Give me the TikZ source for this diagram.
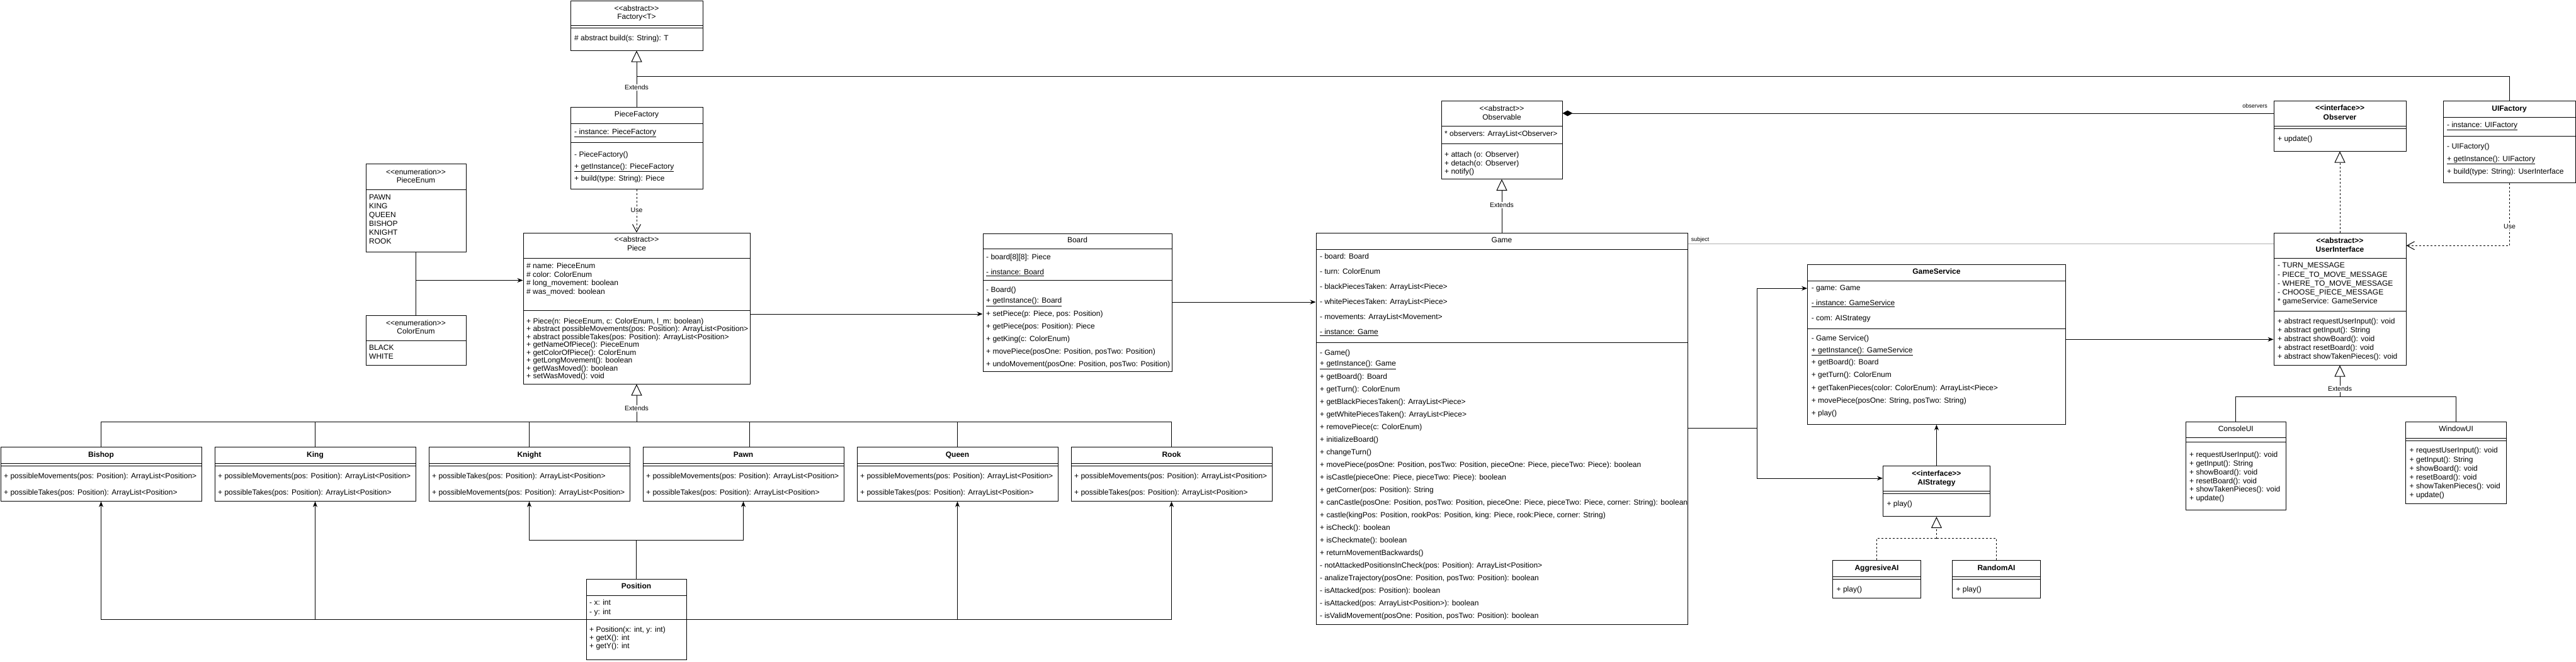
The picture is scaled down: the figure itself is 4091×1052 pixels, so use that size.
\documentclass[tikz,border=0pt]{standalone}
\usepackage{fontspec}
\setmainfont{Liberation Sans}
\usetikzlibrary{arrows.meta,fit}
\newcommand{\stereo}[1]{<\kern0pt<#1>\kern0pt>}
\newcommand{\umlbox}[5]{\node[box, fit={(#2,#3) (#4,#5)}] (#1) {};}
\newcommand{\divl}[3]{\draw[conn] (#1,#3) -- (#2,#3);}
\newcommand{\txtlines}[5]{\foreach \tx [count=\i] in {#5}{\node[txt] (#1\i) at (#2,{#3+(\i-1)*#4}) {\tx};}}
\tikzset{
  box/.style={draw, line width=1pt, fill=white, inner sep=0pt},
  conn/.style={line width=1pt},
  txt/.style={font=\fontsize{12}{14.4}\selectfont, inner sep=0pt, anchor=mid west},
  ttl/.style={font=\fontsize{12}{14.4}\selectfont, inner sep=0pt, anchor=mid},
  ttlb/.style={font=\fontsize{12}{14.4}\selectfont\bfseries, inner sep=0pt, anchor=mid},
  lbl/.style={font=\fontsize{10.5}{12}\selectfont, fill=white, inner sep=1pt, anchor=mid},
  small/.style={font=\fontsize{9}{10}\selectfont, inner sep=0pt, anchor=mid},
  arr/.style={conn, -{Stealth[length=9pt,width=7pt]}},
  ext/.style={conn, -{Triangle[open,length=18pt,width=17pt,fill=white]}},
  real/.style={conn, dash pattern=on 3pt off 3pt, -{Triangle[open,length=18pt,width=17pt,fill=white]}},
  usearr/.style={conn, dash pattern=on 3pt off 3pt, -{Straight Barb[length=12pt,width=13pt]}},
  dsh/.style={conn, dash pattern=on 3pt off 3pt},
  comp/.style={conn, {Diamond[length=16pt,width=9pt]}-},
}
\begin{document}
\begin{tikzpicture}[x=1pt,y=-1pt]
\useasboundingbox (0,0) rectangle (4091,1052);
\fill[white] (0,0) rectangle (4091,1052);

% ---------- Factory<T>
\umlbox{F}{906}{1}{1116}{80}
\divl{906}{1116}{40}\divl{906}{1116}{44}
\node[ttl] (Fs) at (1011,15) {\stereo{abstract}};
\node[ttl] (Ft) at (1011,28) {Factory<T>};
\node[txt] (F1) at (912,62) {\# abstract build(s: String): T};

% ---------- PieceFactory
\umlbox{PF}{906}{170}{1116}{300}
\divl{906}{1116}{196}\divl{906}{1116}{226.7}
\node[ttl] (PFt) at (1011,183) {PieceFactory};
\node[txt] (PFa) at (912,210.7) {\underline{- instance: PieceFactory}};
\txtlines{PFm}{912}{246.7}{19.2}{{- PieceFactory()},{\underline{+ getInstance(): PieceFactory}},{+ build(type: String): Piece}}

% ---------- PieceEnum
\umlbox{PE}{581}{260}{740}{400}
\divl{581}{740}{301.7}
\node[ttl] (PEs) at (660.5,275) {\stereo{enumeration}};
\node[ttl] (PEt) at (660.5,287.7) {PieceEnum};
\txtlines{PEi}{586}{315}{13.9}{PAWN,KING,QUEEN,BISHOP,KNIGHT,ROOK}

% ---------- ColorEnum
\umlbox{CE}{581}{501.7}{740}{580}
\divl{581}{740}{541.7}
\node[ttl] (CEs) at (660.5,515) {\stereo{enumeration}};
\node[ttl] (CEt) at (660.5,527.7) {ColorEnum};
\txtlines{CEi}{586}{554.3}{14}{BLACK,WHITE}

% ---------- Piece
\umlbox{P}{831}{370}{1191}{610}
\divl{831}{1191}{410.7}\divl{831}{1191}{493.3}
\node[ttl] (Ps) at (1011,381.7) {\stereo{abstract}};
\node[ttl] (Pt) at (1011,396) {Piece};
\txtlines{Pa}{836}{424.3}{13.5}{{\# name: PieceEnum},{\# color: ColorEnum},{\# long\_movement: boolean},{\# was\_moved: boolean}}
\txtlines{Pm}{836}{511.7}{12.5}{{+ Piece(n: PieceEnum, c: ColorEnum, l\_m: boolean)},{+ abstract possibleMovements(pos: Position): ArrayList<Position>},{+ abstract possibleTakes(pos: Position): ArrayList<Position>},{+ getNameOfPiece(): PieceEnum},{+ getColorOfPiece(): ColorEnum},{+ getLongMovement(): boolean},{+ getWasMoved(): boolean},{+ setWasMoved(): void}}

% ---------- Board
\umlbox{B}{1561}{371}{1861}{590}
\divl{1561}{1861}{395}\divl{1561}{1861}{445}
\node[ttl] (Bt) at (1711,383) {Board};
\txtlines{Ba}{1566}{410}{24}{{- board[8][8]: Piece},{\underline{- instance: Board}}}
\txtlines{Bm}{1566}{461.7}{17.6}{{- Board()},{\underline{+ getInstance(): Board}}}
\txtlines{Bn}{1566}{500}{20}{{+ setPiece(p: Piece, pos: Position)},{+ getPiece(pos: Position): Piece},{+ getKing(c: ColorEnum)},{+ movePiece(posOne: Position, posTwo: Position)},{+ undoMovement(posOne: Position, posTwo: Position)}}

% ---------- Game
\umlbox{G}{2090}{370}{2680}{992}
\divl{2090}{2680}{396.7}\divl{2090}{2680}{544}
\node[ttl] (Gt) at (2385,383.3) {Game};
\txtlines{Ga}{2096}{409.3}{24}{{- board: Board},{- turn: ColorEnum},{- blackPiecesTaken: ArrayList<Piece>},{- whitePiecesTaken: ArrayList<Piece>},{- movements: ArrayList<Movement>},{\underline{- instance: Game}}}
\txtlines{Gm}{2096}{561.7}{17.6}{{- Game()},{\underline{+ getInstance(): Game}}}
\txtlines{Gn}{2096}{599.7}{20}{{+ getBoard(): Board},{+ getTurn(): ColorEnum},{+ getBlackPiecesTaken(): ArrayList<Piece>},{+ getWhitePiecesTaken(): ArrayList<Piece>},{+ removePiece(c: ColorEnum)},{+ initializeBoard()},{+ changeTurn()},{+ movePiece(posOne: Position, posTwo: Position, pieceOne: Piece, pieceTwo: Piece): boolean},{+ isCastle(pieceOne: Piece, pieceTwo: Piece): boolean},{+ getCorner(pos: Position): String},{+ canCastle(posOne: Position, posTwo: Position, pieceOne: Piece, pieceTwo: Piece, corner: String): boolean},{+ castle(kingPos: Position, rookPos: Position, king: Piece, rook:Piece, corner: String)},{+ isCheck(): boolean},{+ isCheckmate(): boolean},{+ returnMovementBackwards()},{- notAttackedPositionsInCheck(pos: Position): ArrayList<Position>},{- analizeTrajectory(posOne: Position, posTwo: Position): boolean},{- isAttacked(pos: Position): boolean},{- isAttacked(pos: ArrayList<Position>): boolean},{- isValidMovement(posOne: Position, posTwo: Position): boolean}}

% ---------- Observable
\umlbox{OB}{2289}{160}{2481}{284.3}
\divl{2289}{2481}{200.3}\divl{2289}{2481}{228.7}
\node[ttl] (OBs) at (2385,174.3) {\stereo{abstract}};
\node[ttl] (OBt) at (2385,188.3) {Observable};
\node[txt] (OBa) at (2294,214) {* observers: ArrayList<Observer>};
\txtlines{OBm}{2294}{246.7}{13.7}{{+ attach (o: Observer)},{+ detach(o: Observer)},{+ notify()}}

% ---------- Observer
\umlbox{OR}{3611}{160}{3821}{240}
\divl{3611}{3821}{200}\divl{3611}{3821}{204}
\node[ttlb] (ORs) at (3716,173.3) {\stereo{interface}};
\node[ttlb] (ORt) at (3716,187.7) {Observer};
\node[txt] (ORm) at (3617,221.7) {+ update()};

% ---------- UIFactory
\umlbox{UF}{3880}{160}{4090}{290}
\divl{3880}{4090}{186.7}\divl{3880}{4090}{216.3}
\node[ttlb] (UFt) at (3985,173.7) {UIFactory};
\node[txt] (UFa) at (3886,200) {\underline{- instance: UIFactory}};
\txtlines{UFm}{3886}{233.7}{20}{{- UIFactory()},{\underline{+ getInstance(): UIFactory}},{+ build(type: String): UserInterface}}

% ---------- UserInterface
\umlbox{UI}{3611}{370}{3821}{580}
\divl{3611}{3821}{410.7}\divl{3611}{3821}{494.3}
\node[ttlb] (UIs) at (3716,383.7) {\stereo{abstract}};
\node[ttlb] (UIt) at (3716,397.7) {UserInterface};
\txtlines{UIa}{3617}{423.3}{14.1}{{- TURN\_MESSAGE},{- PIECE\_TO\_MOVE\_MESSAGE},{- WHERE\_TO\_MOVE\_MESSAGE},{- CHOOSE\_PIECE\_MESSAGE},{* gameService: GameService}}
\txtlines{UIm}{3617}{511.7}{14}{{+ abstract requestUserInput(): void},{+ abstract getInput(): String},{+ abstract showBoard(): void},{+ abstract resetBoard(): void},{+ abstract showTakenPieces(): void}}

% ---------- GameService
\umlbox{GS}{2870.6}{420.7}{3280.2}{674.3}
\divl{2870.6}{3280.2}{446.4}\divl{2870.6}{3280.2}{522.5}
\node[ttlb] (GSt) at (3075.4,433.2) {GameService};
\txtlines{GSa}{2876.6}{459.3}{23.9}{{- game: Game},{\underline{- instance: GameService}},{- com: AIStrategy}}
\txtlines{GSm}{2876.6}{539.3}{18.2}{{- Game Service()},{\underline{+ getInstance(): GameService}}}
\txtlines{GSn}{2876.6}{577.3}{20.05}{{+ getBoard(): Board},{+ getTurn(): ColorEnum},{+ getTakenPieces(color: ColorEnum): ArrayList<Piece>},{+ movePiece(posOne: String, posTwo: String)},{+ play()}}

% ---------- AIStrategy
\umlbox{AI}{2990.4}{740.4}{3160.4}{820.7}
\divl{2990.4}{3160.4}{780.4}\divl{2990.4}{3160.4}{784.3}
\node[ttlb] (AIs) at (3075.4,753.6) {\stereo{interface}};
\node[ttlb] (AIt) at (3075.4,767.9) {AIStrategy};
\node[txt] (AIm) at (2996.4,801.8) {+ play()};

% ---------- AggresiveAI / RandomAI
\umlbox{AG}{2910.5}{890.4}{3050.5}{950}
\divl{2910.5}{3050.5}{916.4}\divl{2910.5}{3050.5}{920.7}
\node[ttlb] (AGt) at (2980.5,903.6) {AggresiveAI};
\node[txt] (AGm) at (2916.5,937.5) {+ play()};
\umlbox{RA}{3100.3}{890.4}{3240.7}{950}
\divl{3100.3}{3240.7}{916.4}\divl{3100.3}{3240.7}{920.7}
\node[ttlb] (RAt) at (3170.5,903.6) {RandomAI};
\node[txt] (RAm) at (3106.3,937.5) {+ play()};

% ---------- ConsoleUI / WindowUI
\umlbox{CU}{3471}{670}{3630.5}{810}
\divl{3471}{3630.5}{695.7}\divl{3471}{3630.5}{702.7}
\node[ttl] (CUt) at (3550.75,683.3) {ConsoleUI};
\txtlines{CUm}{3477}{724.3}{13.7}{{+ requestUserInput(): void},{+ getInput(): String},{+ showBoard(): void},{+ resetBoard(): void},{+ showTakenPieces(): void},{+ update()}}
\umlbox{WU}{3820.5}{670}{3980.7}{800}
\divl{3820.5}{3980.7}{696}\divl{3820.5}{3980.7}{700}
\node[ttl] (WUt) at (3900.6,683.3) {WindowUI};
\txtlines{WUm}{3826.5}{717.3}{14.2}{{+ requestUserInput(): void},{+ getInput(): String},{+ showBoard(): void},{+ resetBoard(): void},{+ showTakenPieces(): void},{+ update()}}

% ---------- Piece subclasses
\foreach \nm/\ttx/\xl/\ma/\mb in {BI/Bishop/1/possibleMovements/possibleTakes, KI/King/341/possibleMovements/possibleTakes, KN/Knight/681/possibleTakes/possibleMovements, PA/Pawn/1021/possibleMovements/possibleTakes, QU/Queen/1361/possibleMovements/possibleTakes, RO/Rook/1701/possibleMovements/possibleTakes}{
  \node[box, fit={(\xl,710.3) ({\xl+319},796.3)}] (\nm) {};
  \draw[conn] (\xl,736) -- ({\xl+319},736);
  \draw[conn] (\xl,740.3) -- ({\xl+319},740.3);
  \node[ttlb] (\nm t) at ({\xl+159.5},724) {\ttx};
  \node[txt] (\nm a) at ({\xl+5},757.7) {+ \ma(pos: Position): ArrayList<Position>};
  \node[txt] (\nm b) at ({\xl+5},784) {+ \mb(pos: Position): ArrayList<Position>};
}

% ---------- Position
\umlbox{PO}{931}{920.7}{1090}{1048.3}
\divl{931}{1090}{946}\divl{931}{1090}{984.3}
\node[ttlb] (POt) at (1010.5,933.3) {Position};
\txtlines{POa}{936}{959.3}{14.4}{{- x: int},{- y: int}}
\txtlines{POm}{936}{1001.7}{13.3}{{+ Position(x: int, y: int)},{+ getX(): int},{+ getY(): int}}

% ================= connectors
% Factory inheritance
\coordinate (fj) at (1011,121);
\draw[ext] (PF.north) -- (F.south);
\draw[conn] (UF.north) |- (fj);
\node[lbl] (L1) at (1011,140) {Extends};
% PieceFactory uses Piece
\draw[usearr] (PF.south) -- (P.north);
\node[lbl] (L2) at (1011,335) {Use};
% enums to Piece
\coordinate (ej) at (660.5,445.5);
\draw[conn] (PE.south) -- (CE.north);
\draw[arr] (ej) -- (P.west |- ej);
% Piece to Board
\coordinate (pb) at (0,499);
\draw[arr] (P.east |- pb) -- (B.west |- pb);
% Board to Game
\coordinate (bg) at (0,480);
\draw[arr] (B.east |- bg) -- (G.west |- bg);
% Game extends Observable
\draw[ext] (G.north) -- (OB.south);
\node[lbl] (L3) at (2385,327.3) {Extends};
% Observable - Observer composition
\coordinate (oo) at (0,180);
\draw[comp] (OB.east |- oo) -- (OR.west |- oo);
\node[small] (L4) at (3581,169.3) {observers};
% Game - UserInterface subject
\coordinate (su) at (0,387);
\draw[conn, gray!60] (G.east |- su) -- (UI.west |- su);
\node[small] (L5) at (2700,380.7) {subject};
% Game to GameService and AIStrategy
\coordinate (gj) at (2790,680.4);
\coordinate (gs1) at (0,458.2);
\coordinate (ai1) at (0,760);
\draw[conn] (G.east |- gj) -- (gj);
\draw[arr] (gj) |- (GS.west |- gs1);
\draw[arr] (gj) |- (AI.west |- ai1);
% AIStrategy to GameService
\draw[arr] (AI.north) -- (GS.south);
% AI realizations
\coordinate (aij) at (3075.4,855.7);
\draw[dsh] (AG.north) |- (aij);
\draw[dsh] (RA.north) |- (aij);
\draw[real] (aij) -- (AI.south);
% GameService to UserInterface
\coordinate (gu) at (0,539.3);
\draw[arr] (GS.east |- gu) -- (UI.west |- gu);
% UserInterface realizes Observer
\draw[real] (UI.north) -- (OR.south);
% UIFactory uses UserInterface
\coordinate (uu) at (0,390.3);
\draw[usearr] (UF.south) |- (UI.east |- uu);
\node[lbl] (L6) at (3985.5,361) {Use};
% ConsoleUI / WindowUI extend UserInterface
\coordinate (uij) at (3716,630.7);
\draw[conn] (CU.north) |- (uij);
\draw[conn] (WU.north) |- (uij);
\draw[ext] (uij) -- (UI.south);
\node[lbl] (L7) at (3716,619) {Extends};
% Piece subclasses
\coordinate (pj) at (1011,670.3);
\draw[ext] (pj) -- (P.south);
\node[lbl] (L8) at (1011,650.3) {Extends};
\draw[conn] (BI.north) |- (pj);
\draw[conn] (RO.north) |- (pj);
\draw[conn] (KI.north) -- (KI.north |- pj);
\draw[conn] (KN.north) -- (KN.north |- pj);
\draw[conn] ([xshift=10pt]PA.north) -- ([xshift=10pt]PA.north |- pj);
\draw[conn] (QU.north) -- (QU.north |- pj);
% Position used by subclasses
\coordinate (poj) at (1010.5,858.3);
\coordinate (pl) at (0,984.3);
\draw[conn] (PO.north) -- (poj);
\draw[arr] (poj) -| (KN.south);
\draw[arr] (poj) -| (PA.south);
\draw[arr] (PO.west |- pl) -| (BI.south);
\draw[arr] (KI.south |- pl) -- (KI.south);
\draw[arr] (PO.east |- pl) -| (RO.south);
\draw[arr] (QU.south |- pl) -- (QU.south);
\end{tikzpicture}
\end{document}
